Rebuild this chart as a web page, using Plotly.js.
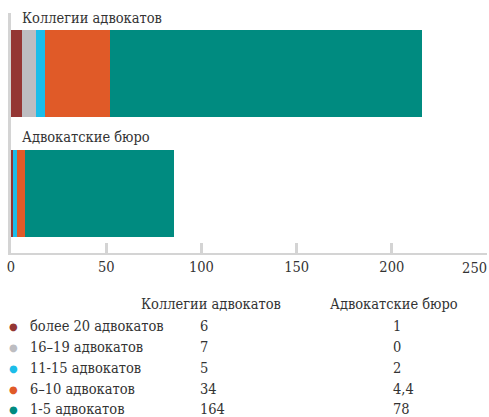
<!DOCTYPE html>
<html>
<head>
<meta charset="utf-8">
<script src="https://cdn.plot.ly/plotly-3.0.1.min.js"></script>
<style>html,body{margin:0;padding:0;background:#fff;}#chart{width:489px;height:417px;}</style>
</head>
<body>
<div id="chart"></div>
<script>
const categories = ["Коллегии адвокатов", "Адвокатские бюро"];
const seriesNames = ["более 20 адвокатов", "16–19 адвокатов", "11-15 адвокатов", "6–10 адвокатов", "1-5 адвокатов"];
const over20 = [6, 1];
const from16to19 = [7, 0];
const from11to15 = [5, 2];
const from6to10 = [34, 4.4];
const from1to5 = [164, 78];
const xTicks = [0, 50, 100, 150, 200, 250];

const seriesValues = [over20, from16to19, from11to15, from6to10, from1to5];
const colors = ["#943634", "#bdbdc1", "#1bbde9", "#e05a28", "#008b80"];

const FONT = "DejaVu Serif Condensed";
const FS = 14.5;
const TXT = "#333333";

const traces = seriesNames.map((name, i) => ({
  type: "bar",
  orientation: "h",
  name: name,
  y: categories,
  x: seriesValues[i],
  marker: {color: colors[i], line: {width: 0}},
  hoverinfo: "none"
}));

const lastTick = xTicks[xTicks.length - 1];
// invisible helper trace so that the overlay axis carrying the last tick label is drawn
traces.push({
  type: "scatter", mode: "markers", xaxis: "x2", yaxis: "y",
  x: [lastTick], y: [categories[0]],
  marker: {opacity: 0, size: 1}, hoverinfo: "none", showlegend: false
});

const W = 489, H = 417;
const mL = 10.5, mR = 2, mT = 13, mB = 164;
const pw = W - mL - mR, ph = H - mT - mB;
const px = x => (x - mL) / pw;
const py = y => (H - mB - y) / ph;

const fmt = v => String(v).replace(".", ",");

const annotations = [];
const catLabelY = [18, 137];
categories.forEach((c, i) => {
  annotations.push({xref: "paper", yref: "paper", x: px(20), y: py(catLabelY[i]), xanchor: "left", yanchor: "middle",
    text: c, showarrow: false, font: {family: FONT, size: FS, color: TXT}});
});
const colX = [139, 328];
categories.forEach((c, i) => {
  annotations.push({xref: "paper", yref: "paper", x: px(colX[i]), y: py(304), xanchor: "left", yanchor: "middle",
    text: c, showarrow: false, font: {family: FONT, size: FS, color: TXT}});
});
const rowY = [326, 347, 368, 389, 409];
const valX = [198, 391];
seriesNames.forEach((name, i) => {
  annotations.push({xref: "paper", yref: "paper", x: px(13), y: py(rowY[i]), xanchor: "center", yanchor: "middle",
    text: "●", showarrow: false, font: {family: "DejaVu Sans", size: 10, color: colors[i]}});
  annotations.push({xref: "paper", yref: "paper", x: px(28), y: py(rowY[i]), xanchor: "left", yanchor: "middle",
    text: name, showarrow: false, font: {family: FONT, size: FS, color: TXT}});
  categories.forEach((c, j) => {
    annotations.push({xref: "paper", yref: "paper", x: px(valX[j]), y: py(rowY[i]), xanchor: "left", yanchor: "middle",
      text: fmt(seriesValues[i][j]), showarrow: false, font: {family: FONT, size: FS, color: TXT}});
  });
});

const mainTickText = xTicks.map(t => t === lastTick ? "" : String(t));

const layout = {
  width: W, height: H,
  margin: {l: mL, r: mR, t: mT, b: mB, pad: 0},
  barmode: "stack",
  bargap: 0.275,
  showlegend: false,
  paper_bgcolor: "#fff",
  plot_bgcolor: "#fff",
  xaxis: {
    range: [0, 250], tickvals: xTicks, ticktext: mainTickText,
    showgrid: false, zeroline: false,
    showline: true, linecolor: "#d4d4d4", linewidth: 2,
    ticks: "inside", ticklen: 10, tickwidth: 3, tickcolor: "#d4d4d4",
    tickfont: {family: FONT, size: FS, color: TXT}, fixedrange: true
  },
  xaxis2: {
    overlaying: "x", anchor: "y", side: "bottom",
    range: [0, 250], tickvals: [lastTick], ticktext: [String(lastTick)],
    ticklabelposition: "outside left", ticklabelstandoff: 4,
    showgrid: false, zeroline: false, showline: false, ticks: "",
    tickfont: {family: FONT, size: FS, color: TXT}, fixedrange: true
  },
  yaxis: {
    categoryorder: "array", categoryarray: categories.slice().reverse(),
    range: [-0.5, 1.5], autorange: false,
    showticklabels: false, showgrid: false, zeroline: false,
    showline: true, linecolor: "#d4d4d4", linewidth: 3, ticks: "", fixedrange: true
  },
  annotations: annotations
};

Plotly.newPlot("chart", traces, layout, {displayModeBar: false, staticPlot: true});
</script>
</body>
</html>
